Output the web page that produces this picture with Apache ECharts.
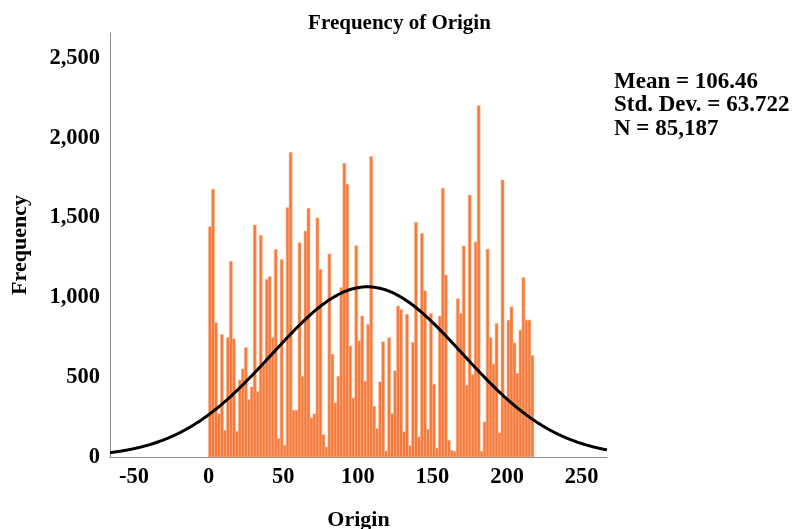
<!DOCTYPE html>
<html>
<head>
<meta charset="utf-8">
<script src="https://cdn.jsdelivr.net/npm/echarts@6/dist/echarts.min.js"></script>
<style>
html,body{margin:0;padding:0;background:#fff;}
#chart{width:799px;height:529px;}
</style>
</head>
<body>
<div id="chart"></div>
<script>
// ---- data ----
const titleText = 'Frequency of Origin';
const xName = 'Origin';
const yName = 'Frequency';
const binWidth = 2;
const frequencies = [
  1443,1678,841,272,768,167,749,1226,741,161,
  481,552,686,360,439,1454,410,1389,580,1113,
  1130,749,1301,115,1238,73,1563,1910,293,293,
  1343,506,1416,1559,245,270,1498,1176,140,63,
  1272,644,339,506,1061,1841,1709,695,370,1324,
  728,883,475,831,1883,318,178,471,722,38,
  747,272,540,946,925,157,895,71,718,1471,
  126,1400,1042,174,900,456,56,883,1684,1140,
  105,42,36,992,900,1322,450,1642,517,1347,
  2201,36,220,1303,749,582,837,151,1736,366,
  858,941,715,523,795,1125,858,858,636
];
const xTicks = [-50, 0, 50, 100, 150, 200, 250];
const yTicks = [0, 500, 1000, 1500, 2000, 2500];
const statMean = 106.46;
const statSd = 63.722;
const statN = 85187;
const statLines = ['Mean = 106.46', 'Std. Dev. = 63.722', 'N = 85,187'];

// ---- build ----
const xMin = -66, xMax = 267, yMax = 2657;
const barData = frequencies.map((f, i) => [i * binWidth, (i + 1) * binWidth, f]);
const curveData = [];
for (let x = xMin; x <= xMax; x += 1) {
  const z = (x - statMean) / statSd;
  curveData.push([x, statN * binWidth * Math.exp(-0.5 * z * z) / (statSd * Math.sqrt(2 * Math.PI))]);
}
const fontFam = '"Liberation Serif", "Times New Roman", serif';
const fmt = v => v.toLocaleString('en-US');

const chart = echarts.init(document.getElementById('chart'), null, {renderer: 'canvas'});
chart.setOption({
  animation: false,
  backgroundColor: '#ffffff',
  title: {
    text: titleText, left: 'center', top: 8,
    textStyle: {fontFamily: fontFam, fontWeight: 'bold', fontSize: 21, color: '#000'}
  },
  grid: {left: 110, right: 192, top: 33, bottom: 72, containLabel: false, outerBoundsMode: 'none'},
  xAxis: {
    type: 'value', min: xMin, max: xMax,
    name: xName, nameLocation: 'middle', nameGap: 52,
    nameTextStyle: {fontFamily: fontFam, fontWeight: 'bold', fontSize: 22, color: '#000'},
    axisLine: {show: true, onZero: false, lineStyle: {color: '#8c8c8c', width: 1}},
    axisTick: {show: false},
    splitLine: {show: false},
    axisLabel: {customValues: xTicks, formatter: v => fmt(v), margin: 9,
      fontFamily: fontFam, fontWeight: 'bold', fontSize: 22.5, color: '#000'}
  },
  yAxis: {
    type: 'value', min: 0, max: yMax,
    name: yName, nameLocation: 'middle', nameGap: 79, nameRotate: 90,
    nameTextStyle: {fontFamily: fontFam, fontWeight: 'bold', fontSize: 22, color: '#000'},
    axisLine: {show: true, onZero: false, lineStyle: {color: '#8c8c8c', width: 1}},
    axisTick: {show: false},
    splitLine: {show: false},
    axisLabel: {customValues: yTicks, formatter: v => fmt(v), margin: 10,
      fontFamily: fontFam, fontWeight: 'bold', fontSize: 22.5, color: '#000'}
  },
  graphic: [{
    type: 'text', left: 614, top: 70,
    style: {text: statLines.join('\n'), fontFamily: fontFam, fontWeight: 'bold',
      fontSize: 23, lineHeight: 23.5, fill: '#000'}
  }],
  series: [{
    type: 'custom',
    data: barData,
    encode: {x: [0, 1], y: 2},
    renderItem: (params, api) => {
      const p0 = api.coord([api.value(0), api.value(2)]);
      const p1 = api.coord([api.value(1), 0]);
      return {
        type: 'rect',
        shape: {x: p0[0], y: p0[1], width: p1[0] - p0[0], height: p1[1] - p0[1]},
        style: {fill: '#F47A3C', stroke: '#FBB48E', lineWidth: 0.6}
      };
    },
    z: 2
  }, {
    type: 'line',
    data: curveData,
    showSymbol: false,
    smooth: true,
    lineStyle: {color: '#000', width: 3},
    z: 3
  }]
});
</script>
</body>
</html>
